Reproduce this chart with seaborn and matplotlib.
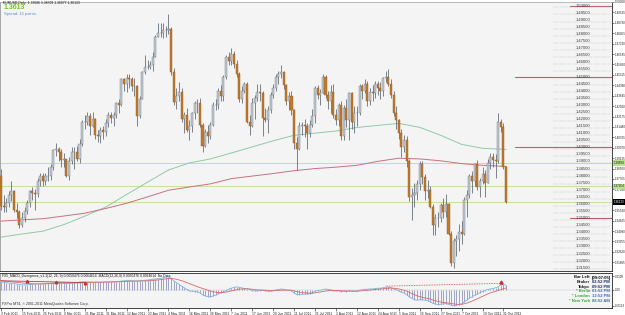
import numpy as np
import pandas as pd
import matplotlib
matplotlib.use("Agg")
import matplotlib.pyplot as plt
import matplotlib.transforms as mtransforms
import seaborn as sns

# ---------------- data ----------------
symbol_title = "EURUSD,Daily  1.38586 1.38709 1.36077 1.36133"
bid_text = "1.3613"
spread_text = "Spread: 15 points."
first_day, last_day = "2011-02-03", "2011-11-01"

opens = [1.3800,1.3585,1.3580,1.3610,1.3660,1.3690,1.3560,1.3540,1.3450,1.3500,1.3550,1.3610,1.3690,1.3680,1.3670,1.3760,1.3800,1.3760,
         1.3800,1.3800,1.3860,1.3980,1.3990,1.3970,1.3910,1.3920,1.3800,1.3900,1.3970,1.3970,1.3920,1.4020,1.4180,1.4180,1.4220,1.4150,1.4200,1.4090,1.4080,1.4120,1.4110,
         1.4170,1.4230,1.4210,1.4230,1.4310,1.4300,1.4480,1.4450,1.4490,1.4480,1.4430,1.4430,1.4220,1.4340,1.4530,1.4570,1.4570,1.4580,1.4640,1.4780,1.4810,
         1.4810,1.4830,1.4830,1.4835,1.4530,1.4320,1.4360,1.4390,1.4200,1.4230,1.4120,1.4150,1.4240,1.4310,1.4310,1.4160,1.4010,1.4110,1.4080,1.4160,1.4300,1.4300,
         1.4400,1.4360,1.4500,1.4640,1.4610,1.4660,1.4590,1.4520,1.4340,1.4400,1.4450,1.4180,1.4150,1.4310,1.4350,1.4390,1.4380,1.4210,1.4190,1.4260,1.4370,1.4420,
         1.4500,1.4520,1.4530,1.4440,1.4330,1.4360,1.4260,1.4030,1.3990,1.4150,1.4160,1.4150,1.4100,1.4160,1.4220,1.4420,1.4370,1.4380,1.4500,1.4370,1.4330,
         1.4390,1.4230,1.4190,1.4300,1.4080,1.4280,1.4190,1.4380,1.4180,1.4240,1.4240,1.4430,1.4400,1.4450,1.4330,1.4390,1.4380,1.4450,1.4420,1.4400,1.4490,1.4500,1.4450,
         1.4370,1.4240,1.4190,1.4100,1.4000,1.4050,1.3900,1.3650,1.3660,1.3680,1.3740,1.3880,1.3790,1.3690,1.3700,1.3580,1.3450,1.3500,1.3500,1.3590,1.3540,1.3600,
         1.3390,1.3180,1.3340,1.3350,1.3400,1.3390,1.3630,1.3660,1.3800,1.3760,1.3880,1.3720,1.3760,1.3810,1.3750,1.3890,1.3930,1.3910,1.3900,1.4180,1.4140,
         1.3860]
highs = [1.3845,1.3660,1.3640,1.3690,1.3760,1.3700,1.3610,1.3555,1.3540,1.3580,1.3625,1.3700,1.3720,1.3705,1.3780,1.3820,1.3820,1.3820,
         1.3860,1.3880,1.3990,1.4030,1.4000,1.3990,1.3960,1.3920,1.3930,1.4000,1.4000,1.4010,1.4060,1.4190,1.4230,1.4250,1.4240,1.4250,1.4210,1.4120,1.4140,1.4150,1.4200,
         1.4250,1.4250,1.4250,1.4320,1.4340,1.4490,1.4490,1.4520,1.4520,1.4500,1.4490,1.4440,1.4360,1.4540,1.4650,1.4620,1.4610,1.4670,1.4790,1.4880,1.4880,
         1.4880,1.4860,1.4940,1.4850,1.4560,1.4420,1.4460,1.4420,1.4250,1.4280,1.4190,1.4250,1.4330,1.4340,1.4350,1.4170,1.4130,1.4160,1.4180,1.4320,1.4340,1.4420,
         1.4440,1.4510,1.4650,1.4670,1.4700,1.4680,1.4620,1.4530,1.4430,1.4460,1.4460,1.4230,1.4350,1.4370,1.4450,1.4450,1.4400,1.4280,1.4290,1.4390,1.4450,1.4520,
         1.4540,1.4580,1.4540,1.4450,1.4390,1.4400,1.4270,1.4070,1.4180,1.4180,1.4200,1.4170,1.4190,1.4270,1.4430,1.4440,1.4410,1.4520,1.4510,1.4400,1.4440,
         1.4450,1.4270,1.4310,1.4330,1.4300,1.4340,1.4390,1.4390,1.4290,1.4290,1.4450,1.4450,1.4480,1.4470,1.4420,1.4440,1.4470,1.4470,1.4460,1.4500,1.4540,1.4550,1.4480,
         1.4400,1.4290,1.4200,1.4130,1.4090,1.4080,1.3920,1.3710,1.3750,1.3770,1.3900,1.3900,1.3810,1.3770,1.3730,1.3600,1.3530,1.3540,1.3610,1.3640,1.3670,1.3610,
         1.3410,1.3360,1.3380,1.3460,1.3480,1.3650,1.3700,1.3810,1.3830,1.3890,1.3910,1.3780,1.3860,1.3840,1.3920,1.3960,1.3960,1.3950,1.4245,1.4200,1.4170,
         1.3871]
lows = [1.3560,1.3540,1.3540,1.3580,1.3620,1.3540,1.3500,1.3430,1.3440,1.3470,1.3530,1.3580,1.3630,1.3560,1.3650,1.3730,1.3730,1.3735,
        1.3760,1.3770,1.3840,1.3940,1.3900,1.3860,1.3860,1.3790,1.3770,1.3880,1.3850,1.3900,1.3890,1.4010,1.4130,1.4160,1.4090,1.4140,1.4060,1.4040,1.4030,1.4060,1.4080,
        1.4140,1.4170,1.4150,1.4210,1.4240,1.4290,1.4400,1.4390,1.4420,1.4400,1.4360,1.4150,1.4210,1.4340,1.4520,1.4550,1.4550,1.4540,1.4640,1.4780,1.4780,
        1.4770,1.4780,1.4800,1.4510,1.4300,1.4270,1.4330,1.4180,1.4100,1.4110,1.4050,1.4110,1.4200,1.4240,1.4140,1.3970,1.4000,1.4030,1.4060,1.4150,1.4260,1.4270,
        1.4330,1.4330,1.4480,1.4580,1.4580,1.4560,1.4500,1.4320,1.4310,1.4380,1.4170,1.4090,1.4140,1.4200,1.4330,1.4330,1.4080,1.4180,1.4100,1.4240,1.4350,1.4400,
        1.4450,1.4490,1.4410,1.4300,1.4260,1.4230,1.3990,1.3840,1.3980,1.4090,1.4070,1.3990,1.4070,1.4140,1.4170,1.4340,1.4300,1.4380,1.4350,1.4270,1.4240,
        1.4210,1.4160,1.4150,1.4050,1.4050,1.4140,1.4050,1.4130,1.4100,1.4150,1.4230,1.4340,1.4380,1.4290,1.4300,1.4330,1.4350,1.4370,1.4340,1.4360,1.4460,1.4430,1.4350,
        1.4220,1.4130,1.4060,1.3930,1.3970,1.3860,1.3620,1.3490,1.3580,1.3630,1.3700,1.3740,1.3630,1.3640,1.3570,1.3380,1.3380,1.3440,1.3470,1.3500,1.3510,1.3380,
        1.3160,1.3146,1.3230,1.3270,1.3320,1.3380,1.3510,1.3640,1.3680,1.3730,1.3700,1.3650,1.3740,1.3650,1.3750,1.3850,1.3860,1.3780,1.3890,1.4110,1.3850,
        1.3608]
closes = [1.3585,1.3580,1.3610,1.3660,1.3690,1.3560,1.3540,1.3450,1.3500,1.3550,1.3610,1.3690,1.3680,1.3670,1.3760,1.3800,1.3760,1.3800,
          1.3800,1.3860,1.3980,1.3990,1.3970,1.3910,1.3920,1.3800,1.3900,1.3970,1.3970,1.3920,1.4020,1.4180,1.4180,1.4220,1.4150,1.4200,1.4090,1.4080,1.4120,1.4110,1.4170,
          1.4230,1.4210,1.4230,1.4310,1.4300,1.4480,1.4450,1.4490,1.4480,1.4430,1.4430,1.4220,1.4340,1.4530,1.4570,1.4570,1.4580,1.4640,1.4780,1.4810,1.4810,
          1.4830,1.4830,1.4835,1.4530,1.4320,1.4360,1.4390,1.4200,1.4230,1.4120,1.4150,1.4240,1.4310,1.4310,1.4160,1.4010,1.4110,1.4080,1.4160,1.4300,1.4300,1.4400,
          1.4360,1.4500,1.4640,1.4610,1.4660,1.4590,1.4520,1.4340,1.4400,1.4450,1.4180,1.4150,1.4310,1.4350,1.4390,1.4380,1.4210,1.4190,1.4260,1.4370,1.4420,1.4500,
          1.4520,1.4530,1.4440,1.4330,1.4360,1.4260,1.4030,1.3990,1.4150,1.4160,1.4150,1.4100,1.4160,1.4220,1.4420,1.4370,1.4380,1.4500,1.4370,1.4330,1.4390,
          1.4230,1.4190,1.4300,1.4080,1.4280,1.4190,1.4380,1.4180,1.4240,1.4240,1.4430,1.4400,1.4450,1.4330,1.4390,1.4380,1.4450,1.4420,1.4400,1.4490,1.4500,1.4450,1.4370,
          1.4240,1.4190,1.4100,1.4000,1.4050,1.3900,1.3650,1.3660,1.3680,1.3740,1.3880,1.3790,1.3690,1.3700,1.3580,1.3450,1.3500,1.3500,1.3590,1.3540,1.3600,1.3390,
          1.3180,1.3340,1.3350,1.3400,1.3390,1.3630,1.3660,1.3800,1.3760,1.3880,1.3720,1.3760,1.3810,1.3750,1.3890,1.3930,1.3910,1.3900,1.4180,1.4140,1.3860,
          1.3613]

date_labels = ["3 Feb 2011", "15 Feb 2011", "25 Feb 2011", "9 Mar 2011", "21 Mar 2011", "31 Mar 2011",
               "12 Apr 2011", "22 Apr 2011", "4 May 2011", "16 May 2011", "26 May 2011", "7 Jun 2011",
               "17 Jun 2011", "29 Jun 2011", "11 Jul 2011", "21 Jul 2011", "2 Aug 2011", "12 Aug 2011",
               "24 Aug 2011", "5 Sep 2011", "15 Sep 2011", "27 Sep 2011", "7 Oct 2011", "19 Oct 2011", "31 Oct 2011"]

# moving averages, read at each labelled date plus the last bar
ma_green = [1.3366, 1.3388, 1.3408, 1.3454, 1.3514, 1.3578, 1.3667, 1.3754, 1.3840, 1.3890, 1.3918, 1.3960, 1.4003,
            1.4046, 1.4085, 1.4100, 1.4115, 1.4140, 1.4155, 1.4169, 1.4141, 1.4085, 1.4021, 1.3993, 1.3986, 1.3985]
ma_red = [1.3479, 1.3488, 1.3496, 1.3515, 1.3535, 1.3568, 1.3605, 1.3650, 1.3697, 1.3720, 1.3742, 1.3779, 1.3797,
          1.3815, 1.3835, 1.3850, 1.3860, 1.3873, 1.3901, 1.3923, 1.3918, 1.3905, 1.3885, 1.3873, 1.3866, 1.3865]

# MACD main and signal, in units of 0.0001
macd_main = [62,60,57,54,52,50,46,42,40,40,41,43,45,47,48,48,49,50,
             51,53,56,58,58,57,55,54,54,55,56,59,62,64,64,64,63,62,61,61,62,62,63,
             64,64,65,66,66,70,72,74,74,73,70,70,72,74,76,78,81,84,86,88,89,
             96,100,105,92,72,58,46,30,18,4,-6,-10,-12,-14,-22,-38,-46,-52,-54,-48,-40,-30,
             -22,-14,-4,6,14,20,24,22,16,12,10,4,-4,-8,-6,-4,-2,-6,-10,-10,-6,0,
             4,8,6,0,-2,-8,-24,-36,-36,-34,-32,-32,-28,-22,-10,-4,-2,2,8,4,2,
             -4,-8,-6,-12,-10,-12,-6,-10,-10,-8,-2,2,6,6,8,8,12,14,14,18,22,22,18,
             10,2,-8,-18,-24,-36,-54,-66,-76,-80,-76,-76,-80,-84,-92,-104,-110,-114,-112,-110,-106,-112,
             -120,-123,-120,-114,-108,-94,-80,-64,-54,-40,-34,-20,-12,-4,4,8,12,18,24,40,44,
             36]
macd_signal = [72,70,68,66,64,62,60,58,55,53,51,50,49,48,48,48,48,48,
               49,50,51,52,53,54,54,54,54,54,55,55,56,57,58,59,60,60,61,61,61,61,62,
               62,62,63,63,64,65,66,67,68,69,70,70,70,71,71,72,73,75,77,79,81,
               84,87,90,90,88,84,79,73,66,58,50,42,34,26,19,12,5,-1,-8,-14,-17,-20,
               -20,-19,-16,-12,-7,-3,2,6,8,9,9,8,6,3,1,0,-1,-2,-3,-5,-5,-4,
               -3,-2,-1,-1,-1,-2,-7,-12,-16,-20,-22,-24,-25,-25,-22,-19,-16,-12,-8,-6,-4,
               -4,-5,-5,-6,-7,-8,-8,-8,-9,-9,-8,-6,-4,-2,0,2,4,6,8,10,12,14,15,
               14,12,8,3,-2,-9,-18,-28,-37,-46,-52,-57,-62,-66,-71,-78,-84,-90,-94,-98,-100,-102,
               -106,-109,-112,-112,-112,-108,-103,-95,-87,-78,-69,-59,-50,-40,-31,-23,-16,-10,-4,3,10,
               16]

level_labels = ["1.50000", "1.49500", "1.49000", "1.48500", "1.48000", "1.47500", "1.47000", "1.46500",
                "1.46000", "1.45500", "1.45000", "1.44500", "1.44000", "1.43500", "1.43000", "1.42500",
                "1.42000", "1.41500", "1.41000", "1.40500", "1.40000", "1.39500", "1.39000", "1.38500",
                "1.38000", "1.37500", "1.37000", "1.36500", "1.36000", "1.35500", "1.35000", "1.34500",
                "1.34000", "1.33500", "1.33000", "1.32500", "1.32000", "1.31500"]
axis_labels = ["1.50260", "1.49525", "1.48790", "1.48055", "1.47320", "1.46585", "1.45850", "1.45115",
               "1.44380", "1.43645", "1.42910", "1.42175", "1.41440", "1.40705", "1.39970", "1.39235",
               "1.38500", "1.37765", "1.37030", "1.36295", "1.35560", "1.34825", "1.34090", "1.33355",
               "1.32620", "1.31885"]
green_levels = [1.38894, 1.37254]
bid_level = 1.36133
round_levels_short = [1.50, 1.35]
round_levels_long = [1.45, 1.40]

macd_ticks = [0.0109, 0.0, -0.0123]
macd_tick_labels = ["0.0109", "0.00", "-0.0123"]
macd_title = "FX5_MACD_Divergence_v1.1(12, 26, 9) 0.0050476 0.0064614  MACD(12,26,9) 0.0050476 0.0064614  No Data"
bar_left_label, bar_left_value = "Bar Left", "[09:07:05]"
clock_labels = ["Broker", "Tokyo", "* Berlin", "* London", "* New York"]
clock_times = ["02:52 PM", "09:52 PM", "01:52 PM", "12:52 PM", "08:52 AM"]
copyright_text = "FXPro MT4, \u00a9 2001-2011 MetaQuotes Software Corp."

# ---------------- style ----------------
sns.set_theme(style="white")
plt.rcParams["font.family"] = ["Liberation Sans", "DejaVu Sans"]

BG = "#f4f4f4"
W, H = 625, 315
fig = plt.figure(figsize=(W / 100, H / 100), dpi=100, facecolor="white")


def box(l, t, r, b):
    return [l / W, 1 - b / H, (r - l) / W, (b - t) / H]


ax = fig.add_axes(box(0, 2, 612, 271), facecolor=BG)
axm = fig.add_axes(box(0, 273, 612, 308), facecolor=BG)

dates = pd.bdate_range(first_day, last_day)
n = len(closes)
idx = np.arange(n)
o = np.array(opens)
c = np.array(closes)
hi = np.array(highs)
lo = np.array(lows)

bar_px, x0_px = 2.617, 1.0
xlim = ((0 - x0_px) / bar_px, (612 - x0_px) / bar_px)
ylim = (1.31268, 1.50211)
px_per_unit = (271 - 2) / (ylim[1] - ylim[0])

label_pos = dates.get_indexer(pd.to_datetime(date_labels, format="%d %b %Y"))
ma_x = list(label_pos) + [n - 1]

# ---------------- main panel ----------------
trans = mtransforms.blended_transform_factory(ax.transAxes, ax.transData)

for lvl in green_levels + [bid_level]:
    ax.axhline(lvl, color="#c2e1a2", lw=0.7, zorder=1)
for lvl in round_levels_short:
    ax.axhline(lvl, xmin=0.931, xmax=1.0, color="#c45a6c", lw=0.8, zorder=1)
for lvl in round_levels_long:
    ax.axhline(lvl, xmin=0.8415, xmax=1.0, color="#c45a6c", lw=0.8, zorder=1)

for s in level_labels:
    v = float(s)
    ax.plot([0.904, 0.996], [v - 0.0012] * 2, transform=trans, ls=(0, (1, 1.4)),
            color="#a8a8a8", lw=0.35, zorder=1)
    ax.text(0.9526, v, s, transform=trans, ha="center", va="center", fontsize=3.0,
            color="#3a3a3a", zorder=5)

sns.lineplot(x=ma_x, y=ma_green, ax=ax, color="#8fcaa8", lw=0.7, zorder=2)
sns.lineplot(x=ma_x, y=ma_red, ax=ax, color="#c9707e", lw=0.7, zorder=2)

up = c >= o
ax.vlines(idx, lo, hi, color="#59626d", lw=0.55, zorder=3)
ax.bar(idx[up], (c - o)[up], bottom=o[up], width=0.78, color="#c4c9cf",
       edgecolor="#6f7a86", linewidth=0.3, zorder=4)
ax.bar(idx[~up], (c - o)[~up], bottom=o[~up], width=0.78, color="#c27a2c",
       edgecolor="#8e5a22", linewidth=0.3, zorder=4)

ax.set_xlim(*xlim)
ax.set_ylim(*ylim)
ax.set_xticks([])
ax.yaxis.tick_right()
# axis labels hidden under the bid price box (as in the terminal) are left blank
shown_labels = [lab if abs(float(lab) - bid_level) * px_per_unit > 4.0 else "" for lab in axis_labels]
ax.set_yticks([float(s) for s in axis_labels])
ax.set_yticklabels(shown_labels)
ax.tick_params(axis="y", direction="out", length=1.5, width=0.4, pad=0.8,
               labelsize=2.2, colors="#222222", right=True, left=False)
ax.set_xlabel("")
ax.set_ylabel("")

for lvl in green_levels:
    ax.text(1.003, lvl, f"{lvl:.5f}", transform=trans, ha="left", va="center", fontsize=2.2,
            color="#222222", bbox=dict(fc="#b6e28c", ec="none", pad=0.5), clip_on=False, zorder=6)
ax.text(1.003, bid_level, f"{bid_level:.5f}", transform=trans, ha="left", va="center", fontsize=2.2,
        color="white", bbox=dict(fc="black", ec="none", pad=0.5), clip_on=False, zorder=6)

for side, col in (("left", "#9a9a9a"), ("top", "#b0b0b0"), ("right", "#222222"), ("bottom", "#222222")):
    ax.spines[side].set_color(col)
    ax.spines[side].set_linewidth(0.6)

# ---------------- MACD panel ----------------
m = np.array(macd_main) * 1e-4
s_ = np.array(macd_signal) * 1e-4
axm.axhline(0, color="#c8c8c8", lw=0.3, zorder=1)
axm.vlines(idx, 0, m, color="#6c76aa", lw=0.45, zorder=2)
sns.lineplot(x=idx, y=m, ax=axm, color="#7db3e6", lw=0.6, zorder=3)
sns.lineplot(x=idx, y=s_, ax=axm, color="#d86a6a", lw=0.6, zorder=3)
axm.plot([147, 191], [m[147] + 0.0008, m[191] + 0.0012], ls=(0, (1, 1)), color="#d04848", lw=0.6, zorder=4)
axm.plot([191], [m[191] + 0.0020], marker="^", ms=2.2, color="#c83030", lw=0, zorder=5)
axm.plot([0, 32], [s_[0], s_[32]], color="#b83a3a", lw=0.6, zorder=4)
for k in (10, 21, 32):
    axm.plot([k], [s_[0] + (s_[32] - s_[0]) * k / 32], marker="^", ms=1.8, color="#c83030", lw=0, zorder=5)

axm.set_xlim(*xlim)
axm.set_ylim(-0.0141, 0.0133)
axm.yaxis.tick_right()
axm.set_yticks(macd_ticks)
axm.set_yticklabels(macd_tick_labels)
axm.tick_params(axis="y", direction="out", length=1.5, width=0.4, pad=0.8,
                labelsize=2.2, colors="#222222", right=True, left=False)
axm.set_xticks(label_pos)
axm.set_xticklabels(date_labels)
for t in axm.get_xticklabels():
    t.set_ha("left")
axm.tick_params(axis="x", direction="out", length=2.0, width=0.4, pad=0.6,
                labelsize=2.4, colors="#222222", bottom=True)
axm.set_xlabel("")
axm.set_ylabel("")
for side, col in (("left", "#9a9a9a"), ("top", "#222222"), ("right", "#222222"), ("bottom", "#222222")):
    axm.spines[side].set_color(col)
    axm.spines[side].set_linewidth(0.6)


# ---------------- texts ----------------
def fx(px):
    return px / W


def fy(py):
    return 1 - py / H


fig.text(fx(3), fy(3.2), symbol_title, fontsize=2.4, color="#111111", va="center", ha="left")
fig.text(fx(4), fy(7.8), bid_text, fontsize=5.0, color="#6ccc1c", fontweight="bold", va="center", ha="left")
fig.text(fx(4), fy(13.6), spread_text, fontsize=3.0, color="#5a8fd0", va="center", ha="left")

fig.text(fx(2), fy(276.5), macd_title, fontsize=2.4, color="#111111", va="center", ha="left")
fig.text(fx(2), fy(303.5), copyright_text, fontsize=2.6, color="#333333", va="center", ha="left")

y0, dy = 277.5, 4.65
fig.text(fx(590), fy(y0), bar_left_label, fontsize=3.0, fontweight="bold", color="#111111", ha="right", va="center")
fig.text(fx(592), fy(y0), bar_left_value, fontsize=3.0, fontweight="bold", color="#111111", ha="left", va="center")
for k, (lab, tm) in enumerate(zip(clock_labels, clock_times)):
    yy = y0 + dy * (k + 1)
    lab_col = "#3aa83a" if lab.startswith("*") else "#111111"
    tm_col = "#3e6cc4" if lab.startswith("*") else "#1c2f6e"
    fig.text(fx(590), fy(yy), lab, fontsize=3.0, fontweight="bold", color=lab_col, ha="right", va="center")
    fig.text(fx(592), fy(yy), tm, fontsize=3.0, fontweight="bold", color=tm_col, ha="left", va="center")

fig.savefig("out.png", dpi=100, facecolor="white")
